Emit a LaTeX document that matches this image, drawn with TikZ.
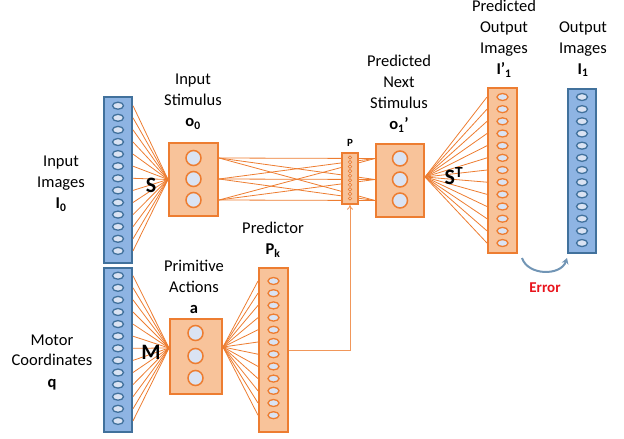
\documentclass[tikz,border=0pt]{standalone}
\usepackage{fontspec}
\setmainfont{Carlito}
\usetikzlibrary{shapes.geometric,arrows.meta,calc}
\definecolor{orline}{HTML}{ED7D31}
\definecolor{orfill}{HTML}{F8C39A}
\definecolor{blfill}{HTML}{8EB4E3}
\definecolor{blline}{HTML}{41719C}
\definecolor{dotfill}{HTML}{DAE3F3}
\definecolor{errred}{HTML}{E8141C}
\begin{document}
\begin{tikzpicture}[x=1pt,y=-1pt,
  bluecol/.style={draw=blline, fill=blfill, line width=2pt, minimum width=28pt, inner sep=0pt},
  orcol/.style={draw=orline, fill=orfill, line width=2pt, minimum width=29pt, inner sep=0pt},
  orbox/.style={draw=orline, fill=orfill, line width=2pt, inner sep=0pt},
  bdot/.style={ellipse, draw=blline, fill=dotfill, line width=1.3pt, minimum width=11pt, minimum height=7pt, inner sep=0pt},
  odot/.style={ellipse, draw=orline, fill=dotfill, line width=1.3pt, minimum width=11pt, minimum height=7pt, inner sep=0pt},
  neuron/.style={circle, draw=orline, fill=dotfill, line width=1.5pt, minimum size=15pt, inner sep=0pt},
  tinydot/.style={circle, draw=orline, fill=dotfill!60!orfill, line width=0.7pt, minimum size=3.4pt, inner sep=0pt},
  wire/.style={draw=orline, line width=0.8pt},
  lbl/.style={font=\fontsize{16.5}{21}\selectfont, align=center, inner sep=0pt},
  big/.style={font=\fontsize{22}{24}\selectfont\bfseries, inner sep=0pt}]
\useasboundingbox (0,0) rectangle (624,439);

% ---------- layer blocks ----------
\node[bluecol, minimum height=166pt] (incol) at (118,180) {};
\node[bluecol, minimum height=164pt] (motcol) at (118,350) {};
\node[orbox, minimum width=49pt, minimum height=73pt] (stim) at (193.5,179.5) {};
\node[orbox, minimum width=52pt, minimum height=75pt] (act) at (196,356.5) {};
\node[orcol, minimum height=164pt] (predcol) at (273.5,350) {};
\node[orbox, minimum width=48pt, minimum height=73pt] (next) at (400,180.5) {};
\node[orcol, minimum height=165pt] (outpcol) at (502.5,170.5) {};
\node[bluecol, minimum height=164pt] (outcol) at (582,171) {};

% ---------- units inside the blocks ----------
\foreach \i in {1,...,13} {
  \node[bdot] (in\i) at (118,{105.7+(\i-1)*12.1}) {};
  \node[bdot] (mo\i) at (118,{275.7+(\i-1)*12.1}) {};
  \node[odot] (po\i) at (502.5,{97+(\i-1)*12.17}) {};
  \node[bdot] (ou\i) at (582,{97+(\i-1)*12.17}) {};
}
\foreach \i in {1,...,12}
  \node[odot] (pk\i) at (273.5,{281+(\i-1)*12.2}) {};
\foreach \i/\y in {1/158,2/179,3/200} {
  \node[neuron] (s\i) at (193.5,\y) {};
  \node[neuron] (n\i) at (400,{\y+0.5}) {};
}
\foreach \i/\y in {1/333,2/356,3/378}
  \node[neuron] (a\i) at (195.5,\y) {};

% ---------- weights ----------
\coordinate (actin) at ($(act.west)+(0,-8.5)$);
\coordinate (actout) at ($(act.east)+(0,-9.5)$);
\coordinate (nextout) at ($(next.east)+(0,-3.5)$);
\foreach \i in {1,...,13} {
  \draw[wire] (in\i -| incol.east) -- (stim.west);
  \draw[wire] (mo\i -| motcol.east) -- (actin);
  \draw[wire] (nextout) -- (po\i -| outpcol.west);
}
\foreach \i in {1,...,12}
  \draw[wire] (actout) -- (pk\i -| predcol.west);
\foreach \i in {1,2,3}
  \foreach \j in {1,2,3}
    \draw[wire] (s\i -| stim.east) -- (n\j -| next.west);

% ---------- predictor gate ----------
\node[orbox, line width=1.5pt, minimum width=16pt, minimum height=51pt] (pbox) at (350,178.5) {};
\foreach \i in {1,...,10}
  \node[tinydot] (pd\i) at (350,{157.5+(\i-1)*4.55}) {};
\draw[wire, draw=orline!80, -{To[length=5pt,width=6pt]}] (predcol.east) -| (pbox.south);

% ---------- error ----------
\coordinate (errA) at (522,258);
\coordinate (errB) at (567,258);
\draw[draw=blline!75, line width=2pt, -{Stealth[length=6pt,width=7pt]}]
  (errA) .. controls (528,276) and (561,276) .. (errB);
\node[font=\fontsize{15}{17}\selectfont\bfseries, text=errred, inner sep=0pt] (err) at (545,288) {Error};

% ---------- labels ----------
\node[lbl] (linput) at (61,184) {Input\\Images\\\textbf{I\textsubscript{0}}};
\node[lbl] (lmotor) at (52,362) {Motor\\Coordinates\\\textbf{q}};
\node[lbl] (lstim) at (193,102) {Input\\Stimulus\\\textbf{o\textsubscript{0}}};
\node[lbl] (lact) at (194,287) {Primitive\\Actions\\\textbf{a}};
\node[lbl] (lpred) at (273,240) {Predictor\\\textbf{P\textsubscript{k}}};
\node[lbl] (lnext) at (399,94) {Predicted\\Next\\Stimulus\\\textbf{o\textsubscript{1}’}};
\node[lbl] (loutp) at (504,39) {Predicted\\Output\\Images\\\textbf{I’\textsubscript{1}}};
\node[lbl] (lout) at (583,49) {Output\\Images\\\textbf{I\textsubscript{1}}};
\node[font=\fontsize{11}{12}\selectfont\bfseries, inner sep=0pt] (lp) at (350,143) {P};
\node[big] (lS) at (151,185) {S};
\node[big] (lM) at (151,352) {M};
\node[big] (lST) at (454,176) {S\textsuperscript{T}};
\end{tikzpicture}
\end{document}
